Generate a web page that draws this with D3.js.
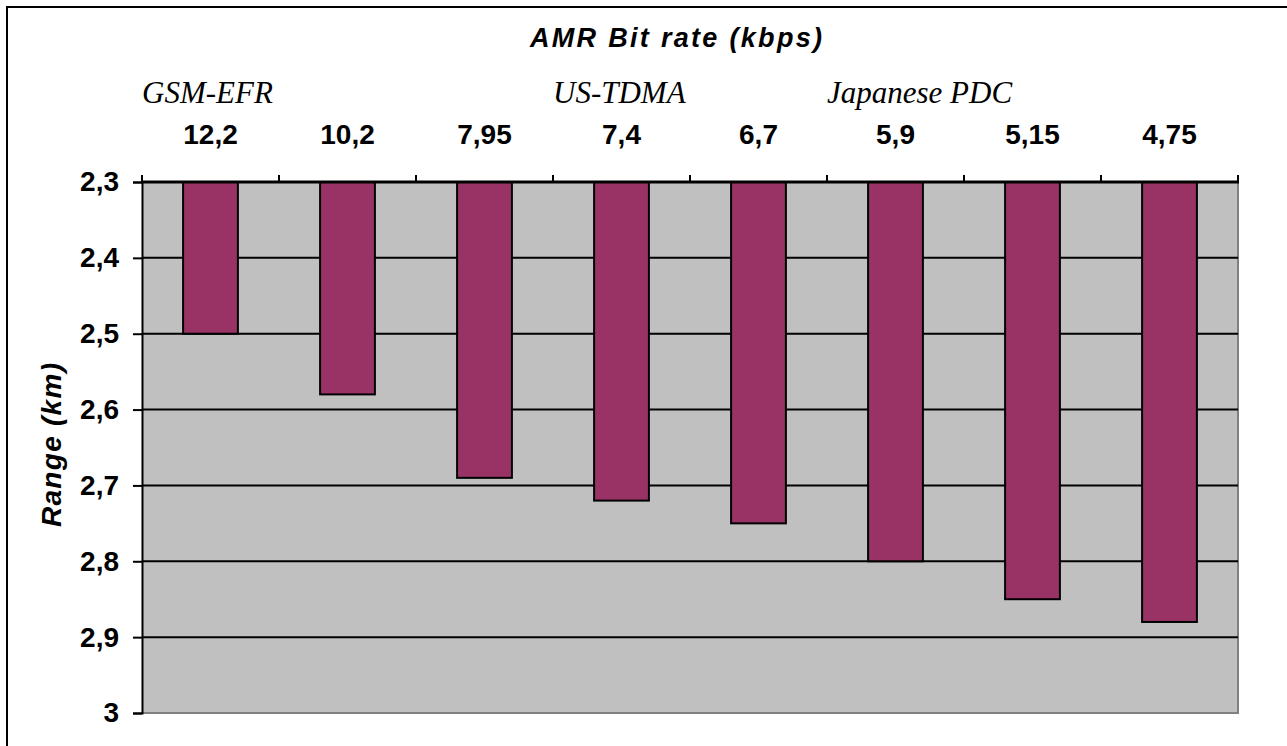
<!DOCTYPE html>
<html>
<head>
<meta charset="utf-8">
<script src="https://cdn.jsdelivr.net/npm/d3@7/dist/d3.min.js"></script>
<style>
  html, body { margin: 0; padding: 0; background: #fff; }
  svg { display: block; }
</style>
</head>
<body>
<svg id="chart" width="1287" height="746"></svg>
<script>
// AMR codec modes (kbps) and the resulting cell range (km)
const bitRates = ["12,2", "10,2", "7,95", "7,4", "6,7", "5,9", "5,15", "4,75"];
const rangeKm = [2.50, 2.58, 2.69, 2.72, 2.75, 2.80, 2.85, 2.88];
const rangeTicks = [2.3, 2.4, 2.5, 2.6, 2.7, 2.8, 2.9, 3.0];
// Standards that correspond to particular AMR modes
const standardNames = ["GSM-EFR", "US-TDMA", "Japanese PDC"];
const standardModes = ["12,2", "7,4", "5,9"];

const svg = d3.select("#chart");
const W = 1287, H = 746;
const plot = { left: 142, right: 1238, top: 182, bottom: 713 };

const sans = "'Liberation Sans', Arial, Helvetica, sans-serif";
const serif = "'Liberation Serif', 'Times New Roman', Times, serif";

// outer chart frame
svg.append("rect")
  .attr("x", 7).attr("y", 7)
  .attr("width", W + 20).attr("height", H + 20)
  .attr("fill", "#fff").attr("stroke", "#000").attr("stroke-width", 2);

const x = d3.scaleBand()
  .domain(bitRates)
  .range([plot.left, plot.right])
  .paddingInner(0.6)
  .paddingOuter(0.3);

const y = d3.scaleLinear()
  .domain([2.3, 3.0])
  .range([plot.top, plot.bottom]);

// plot background
svg.append("rect")
  .attr("x", plot.left).attr("y", plot.top)
  .attr("width", plot.right - plot.left)
  .attr("height", plot.bottom - plot.top)
  .attr("fill", "#c0c0c0");

// right and bottom edges of the plot area
svg.append("path")
  .attr("d", `M${plot.right},${plot.top}V${plot.bottom}H${plot.left}`)
  .attr("fill", "none").attr("stroke", "#808080").attr("stroke-width", 2);

// horizontal gridlines
svg.append("g")
  .selectAll("line")
  .data(rangeTicks.filter(v => v > 2.3 && v < 3.0))
  .join("line")
  .attr("x1", plot.left).attr("x2", plot.right)
  .attr("y1", d => y(d)).attr("y2", d => y(d))
  .attr("stroke", "#000").attr("stroke-width", 2);

// bars hang down from the top axis
svg.append("g")
  .selectAll("rect")
  .data(rangeKm)
  .join("rect")
  .attr("x", (d, i) => x(bitRates[i]))
  .attr("y", y(2.3))
  .attr("width", x.bandwidth())
  .attr("height", d => y(d) - y(2.3))
  .attr("fill", "#993366")
  .attr("stroke", "#000")
  .attr("stroke-width", 2);

// left value axis
const fmt = d => String(+d.toFixed(1)).replace(".", ",");
const yAxis = svg.append("g")
  .attr("transform", `translate(${plot.left},0)`)
  .call(d3.axisLeft(y).tickValues(rangeTicks).tickFormat(fmt).tickSize(9).tickPadding(14));
yAxis.select(".domain").attr("stroke", "#000").attr("stroke-width", 2);
yAxis.selectAll(".tick line").attr("stroke", "#000").attr("stroke-width", 2);
yAxis.selectAll(".tick text")
  .attr("font-family", sans).attr("font-size", 28).attr("font-weight", "bold")
  .attr("fill", "#000");

// top category axis: ticks at band boundaries, labels at band centres
const step = x.step();
const firstBoundary = x(bitRates[0]) - x.paddingInner() * step / 2;
const boundaries = d3.range(bitRates.length + 1).map(i => firstBoundary + i * step);
svg.append("g")
  .selectAll("line")
  .data(boundaries)
  .join("line")
  .attr("x1", d => d).attr("x2", d => d)
  .attr("y1", plot.top - 7).attr("y2", plot.top)
  .attr("stroke", "#000").attr("stroke-width", 2);
svg.append("line")
  .attr("x1", plot.left - 1).attr("x2", plot.right + 1)
  .attr("y1", plot.top).attr("y2", plot.top)
  .attr("stroke", "#000").attr("stroke-width", 3);

svg.append("g")
  .selectAll("text")
  .data(bitRates)
  .join("text")
  .attr("x", d => x(d) + x.bandwidth() / 2)
  .attr("y", 144)
  .attr("text-anchor", "middle")
  .attr("font-family", sans).attr("font-size", 28).attr("font-weight", "bold")
  .attr("fill", "#000")
  .text(d => d);

// standard names above their modes
svg.append("g")
  .selectAll("text")
  .data(standardNames)
  .join("text")
  .attr("x", (d, i) => x(standardModes[i]) - x.paddingInner() * step / 2)
  .attr("y", 103)
  .attr("font-family", serif).attr("font-size", 31).attr("font-style", "italic")
  .attr("fill", "#000")
  .text(d => d);

// axis titles
svg.append("text")
  .attr("x", 676).attr("y", 47)
  .attr("text-anchor", "middle")
  .attr("font-family", sans).attr("font-size", 27)
  .attr("font-weight", "bold").attr("font-style", "italic")
  .attr("textLength", 292).attr("lengthAdjust", "spacing")
  .text("AMR Bit rate (kbps)");

svg.append("text")
  .attr("transform", `translate(61,445) rotate(-90)`)
  .attr("text-anchor", "middle")
  .attr("font-family", sans).attr("font-size", 28)
  .attr("font-weight", "bold").attr("font-style", "italic")
  .attr("textLength", 164).attr("lengthAdjust", "spacing")
  .text("Range (km)");
</script>
</body>
</html>
